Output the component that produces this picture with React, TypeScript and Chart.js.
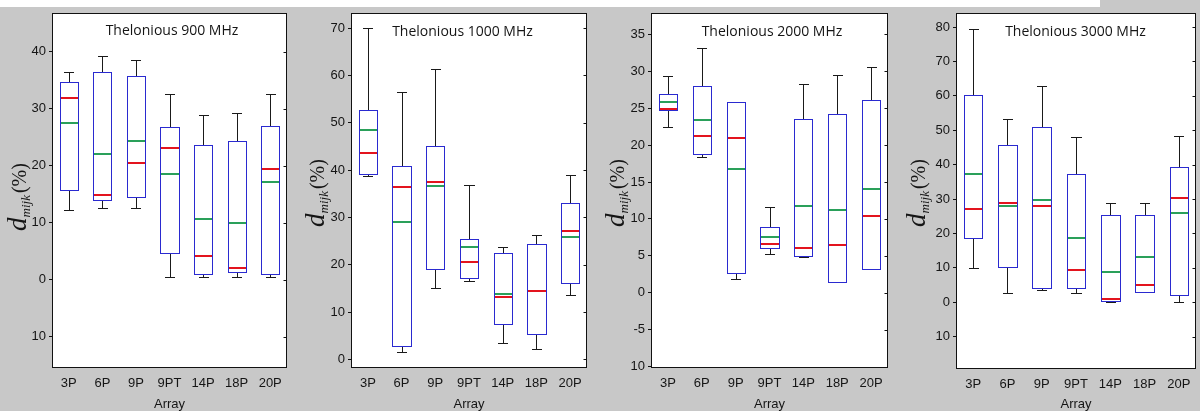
import React, { useEffect, useRef } from 'react';
import { Chart, registerables } from 'chart.js';

Chart.register(...registerables);

const categories = ['3P', '6P', '9P', '9PT', '14P', '18P', '20P'];

// Thelonious 900 MHz
const min900 = [12.2, 12.6, 12.5, 0.4, 0.4, 0.4, 0.4];
const q1_900 = [15.8, 13.9, 14.5, 4.7, 1.05, 1.3, 1.05];
const median900 = [31.9, 14.8, 20.5, 23.1, 4.2, 2.0, 19.4];
const mean900 = [27.5, 22.1, 24.3, 18.5, 10.6, 10.0, 17.1];
const q3_900 = [34.7, 36.5, 35.8, 26.8, 23.7, 24.3, 27.0];
const max900 = [36.5, 39.2, 38.5, 32.6, 28.9, 29.3, 32.6];
const ticks900 = [-10, 0, 10, 20, 30, 40];
const tickLabels900 = ['10', '0', '10', '20', '30', '40'];

// Thelonious 1000 MHz
const min1000 = [38.8, 1.6, 15.1, 16.6, 3.5, 2.3, 13.7];
const q1_1000 = [39.2, 2.8, 19.2, 17.3, 7.4, 5.4, 16.1];
const median1000 = [43.7, 36.4, 37.5, 20.6, 13.1, 14.5, 27.1];
const mean1000 = [48.5, 29.1, 36.6, 23.7, 13.9, 14.4, 25.9];
const q3_1000 = [52.7, 40.9, 45.1, 25.4, 22.6, 24.4, 33.1];
const max1000 = [70.0, 56.5, 61.4, 36.8, 23.7, 26.3, 38.9];
const ticks1000 = [0, 10, 20, 30, 40, 50, 60, 70];
const tickLabels1000 = ['0', '10', '20', '30', '40', '50', '60', '70'];

// Thelonious 2000 MHz
const min2000 = [22.4, 18.4, 1.9, 5.2, 4.9, 1.45, 3.25];
const q1_2000 = [24.75, 18.8, 2.7, 6.05, 5.0, 1.45, 3.25];
const median2000 = [24.9, 21.3, 20.9, 6.6, 6.0, 6.4, 10.4];
const mean2000 = [25.9, 23.4, 16.7, 7.5, 11.8, 11.2, 14.1];
const q3_2000 = [26.9, 28.0, 25.9, 8.85, 23.6, 24.2, 26.1];
const max2000 = [29.4, 33.2, 25.9, 11.65, 28.3, 29.5, 30.6];
const ticks2000 = [-10, -5, 0, 5, 10, 15, 20, 25, 30, 35];
const tickLabels2000 = ['10', '-5', '0', '5', '10', '15', '20', '25', '30', '35'];

// Thelonious 3000 MHz
const min3000 = [9.9, 2.8, 3.5, 2.8, 0.0, 3.1, 0.0];
const q1_3000 = [18.6, 10.2, 4.1, 4.1, 0.5, 3.1, 2.1];
const median3000 = [27.2, 28.8, 28.1, 9.3, 0.9, 5.1, 30.2];
const mean3000 = [37.3, 28.1, 29.7, 18.6, 8.9, 13.2, 25.9];
const q3_3000 = [60.3, 45.7, 51.1, 37.3, 25.3, 25.3, 39.3];
const max3000 = [79.4, 53.4, 62.9, 48.1, 28.9, 28.9, 48.3];
const ticks3000 = [-10, 0, 10, 20, 30, 40, 50, 60, 70, 80];
const tickLabels3000 = ['10', '0', '10', '20', '30', '40', '50', '60', '70', '80'];

const titles = ['Thelonious 900 MHz', 'Thelonious 1000 MHz', 'Thelonious 2000 MHz', 'Thelonious 3000 MHz'];
const xTitle = 'Array';

type Stats = { min: number[]; q1: number[]; median: number[]; mean: number[]; q3: number[]; max: number[]; tickValues: number[]; tickLabels: string[]; title: string };
type Layout = { offset: number; left: number; right: number; top: number; bottom: number; yMin: number; yMax: number; titleX: number; titleY: number; ylabelX: number; ylabelY: number };

const panels: { stats: Stats; layout: Layout }[] = [
  {
    stats: { min: min900, q1: q1_900, median: median900, mean: mean900, q3: q3_900, max: max900, tickValues: ticks900, tickLabels: tickLabels900, title: titles[0] },
    layout: { offset: 0, left: 52, right: 287, top: 13, bottom: 368, yMin: -15.5, yMax: 46.8, titleX: 172, titleY: 31, ylabelX: 26, ylabelY: 197 },
  },
  {
    stats: { min: min1000, q1: q1_1000, median: median1000, mean: mean1000, q3: q3_1000, max: max1000, tickValues: ticks1000, tickLabels: tickLabels1000, title: titles[1] },
    layout: { offset: 300, left: 51, right: 287, top: 13, bottom: 368, yMin: -1.8, yMax: 73.2, titleX: 162.5, titleY: 32, ylabelX: 24, ylabelY: 193 },
  },
  {
    stats: { min: min2000, q1: q1_2000, median: median2000, mean: mean2000, q3: q3_2000, max: max2000, tickValues: ticks2000, tickLabels: tickLabels2000, title: titles[2] },
    layout: { offset: 600, left: 51, right: 288, top: 13, bottom: 368, yMin: -10.2, yMax: 37.9, titleX: 172, titleY: 32, ylabelX: 24, ylabelY: 193 },
  },
  {
    stats: { min: min3000, q1: q1_3000, median: median3000, mean: mean3000, q3: q3_3000, max: max3000, tickValues: ticks3000, tickLabels: tickLabels3000, title: titles[3] },
    layout: { offset: 900, left: 56, right: 296, top: 13, bottom: 369, yMin: -19.4, yMax: 84.1, titleX: 175.5, titleY: 32, ylabelX: 25, ylabelY: 193 },
  },
];

const W = 300;
const H = 411;
const TEXT = '#151515';
const BOX = '#2a2ad0';
const RED = '#e3141e';
const GREEN = '#2aa05a';
const WHISKER = '#1a1a1a';
const SANS = '"Liberation Sans", Arial, sans-serif';

function Panel({ stats, layout }: { stats: Stats; layout: Layout }) {
  const ref = useRef<HTMLCanvasElement>(null);
  useEffect(() => {
    const boxPlugin = {
      id: 'boxPlugin',
      beforeDraw(chart: any) {
        const { ctx, chartArea: ca } = chart;
        ctx.save();
        ctx.fillStyle = '#ffffff';
        ctx.fillRect(ca.left, ca.top, ca.right - ca.left, ca.bottom - ca.top);
        ctx.restore();
      },
      afterDatasetsDraw(chart: any) {
        const { ctx, chartArea: ca } = chart;
        const y = chart.scales.y;
        const meta = chart.getDatasetMeta(0);
        ctx.save();
        meta.data.forEach((bar: any, i: number) => {
          const { x, width } = bar.getProps(['x', 'width'], true);
          const cx = Math.round(x) + 0.5;
          const bl = Math.round(x - width / 2) + 0.5;
          const br = Math.round(x + width / 2) + 0.5;
          const pMin = y.getPixelForValue(stats.min[i]);
          const pQ1 = y.getPixelForValue(stats.q1[i]);
          const pQ3 = y.getPixelForValue(stats.q3[i]);
          const pMax = y.getPixelForValue(stats.max[i]);
          const yQ1 = Math.round(pQ1) + 0.5;
          const yQ3 = Math.round(pQ3) + 0.5;
          const capHalf = width / 4;
          ctx.strokeStyle = WHISKER;
          ctx.lineWidth = 1;
          if (stats.max[i] > stats.q3[i]) {
            const yc = Math.round(pMax) + 0.5;
            ctx.beginPath();
            ctx.moveTo(cx, yQ3);
            ctx.lineTo(cx, yc);
            ctx.stroke();
            ctx.beginPath();
            ctx.moveTo(Math.round(x - capHalf), yc);
            ctx.lineTo(Math.round(x + capHalf) + 1, yc);
            ctx.stroke();
          }
          if (stats.min[i] < stats.q1[i]) {
            const yc = Math.round(pMin) + 0.5;
            ctx.beginPath();
            ctx.moveTo(cx, yQ1);
            ctx.lineTo(cx, yc);
            ctx.stroke();
            ctx.beginPath();
            ctx.moveTo(Math.round(x - capHalf), yc);
            ctx.lineTo(Math.round(x + capHalf) + 1, yc);
            ctx.stroke();
          }
          // crisp box outline over the bar element
          ctx.strokeStyle = BOX;
          ctx.strokeRect(bl, yQ3, br - bl, yQ1 - yQ3);
          const pMean = y.getPixelForValue(stats.mean[i]);
          const pMed = y.getPixelForValue(stats.median[i]);
          ctx.fillStyle = GREEN;
          ctx.fillRect(bl + 0.5, Math.round(pMean) - 1, br - bl - 1, 2);
          ctx.fillStyle = RED;
          ctx.fillRect(bl + 0.5, Math.round(pMed) - 1, br - bl - 1, 2);
        });
        // frame
        ctx.strokeStyle = '#111111';
        ctx.lineWidth = 1;
        const l = Math.round(ca.left) + 0.5;
        const r = Math.round(ca.right) - 0.5;
        const t = Math.round(ca.top) + 0.5;
        const b = Math.round(ca.bottom) - 0.5;
        ctx.strokeRect(l, t, r - l, b - t);
        // inner ticks on right edge
        stats.tickValues.forEach((v) => {
          const py = Math.round(y.getPixelForValue(v)) + 0.5;
          ctx.beginPath();
          ctx.moveTo(r - 3, py);
          ctx.lineTo(r, py);
          ctx.stroke();
        });
        // panel title
        ctx.fillStyle = TEXT;
        ctx.font = '14px "Open Sans", sans-serif';
        ctx.textAlign = 'center';
        ctx.textBaseline = 'middle';
        ctx.fillText(stats.title, layout.titleX, layout.titleY);
        ctx.restore();
      },
      afterDraw(chart: any) {
        const { ctx } = chart;
        ctx.save();
        ctx.translate(layout.ylabelX, layout.ylabelY);
        ctx.rotate(-Math.PI / 2);
        ctx.fillStyle = TEXT;
        ctx.textBaseline = 'alphabetic';
        ctx.textAlign = 'left';
        const fD = 'italic 27px "Liberation Serif", serif';
        const fS = 'italic 13px "Liberation Serif", serif';
        const fP = '20px "Liberation Serif", serif';
        ctx.font = fD;
        const wd = ctx.measureText('d').width;
        ctx.font = fS;
        const ws = ctx.measureText('mijk').width;
        ctx.font = fP;
        const wp = ctx.measureText('(%)').width;
        const total = wd + ws + 2 + wp;
        let px = -total / 2;
        ctx.font = fD;
        ctx.fillText('d', px, 0);
        px += wd;
        ctx.font = fS;
        ctx.fillText('mijk', px, 4);
        px += ws + 2;
        ctx.font = fP;
        ctx.fillText('(%)', px, 0);
        ctx.restore();
      },
    };

    const chart = new Chart(ref.current as HTMLCanvasElement, {
      type: 'bar',
      data: {
        labels: categories,
        datasets: [
          {
            data: stats.q1.map((v, i) => [v, stats.q3[i]]) as any,
            backgroundColor: '#ffffff',
            borderColor: BOX,
            borderWidth: 0,
            borderSkipped: false,
            barPercentage: 0.54,
            categoryPercentage: 1,
          },
        ],
      },
      options: {
        animation: false,
        responsive: false,
        maintainAspectRatio: false,
        events: [],
        layout: { padding: { left: 0, right: W - layout.right, top: layout.top, bottom: 0 } },
        plugins: { legend: { display: false }, tooltip: { enabled: false }, title: { display: false } },
        scales: {
          x: {
            type: 'category',
            offset: true,
            grid: { display: false, drawTicks: false },
            border: { display: false },
            ticks: { font: { family: SANS, size: 13 }, color: TEXT, padding: 8, maxRotation: 0, autoSkip: false },
            title: { display: true, text: xTitle, font: { family: SANS, size: 13, lineHeight: 1 }, color: TEXT, padding: { top: 0, bottom: 0 } },
            afterFit: (s: any) => {
              s.height = H - layout.bottom;
            },
          },
          y: {
            type: 'linear',
            min: layout.yMin,
            max: layout.yMax,
            afterBuildTicks: (s: any) => {
              s.ticks = stats.tickValues.map((v) => ({ value: v }));
            },
            afterFit: (s: any) => {
              s.width = layout.left;
            },
            grid: { drawOnChartArea: false, drawTicks: true, tickLength: 3, color: '#111111', lineWidth: 1 },
            border: { display: false },
            ticks: {
              font: { family: SANS, size: 13 },
              color: TEXT,
              padding: 3,
              autoSkip: false,
              callback: (v: any) => {
                const idx = stats.tickValues.indexOf(Number(v));
                return idx >= 0 ? stats.tickLabels[idx] : '';
              },
            },
          },
        },
      },
      plugins: [boxPlugin],
    } as any);
    return () => chart.destroy();
  }, []);
  return (
    <canvas
      ref={ref}
      width={W}
      height={H}
      style={{ position: 'absolute', left: layout.offset, top: 0, width: W, height: H }}
    />
  );
}

export default function App() {
  return (
    <div style={{ position: 'absolute', left: 0, top: 0, width: 1200, height: 411, background: '#c8c8c8', overflow: 'hidden' }}>
      <div style={{ position: 'absolute', left: 0, top: 0, width: 1100, height: 7, background: '#ffffff' }} />
      {panels.map((p, i) => (
        <Panel key={i} stats={p.stats} layout={p.layout} />
      ))}
    </div>
  );
}
